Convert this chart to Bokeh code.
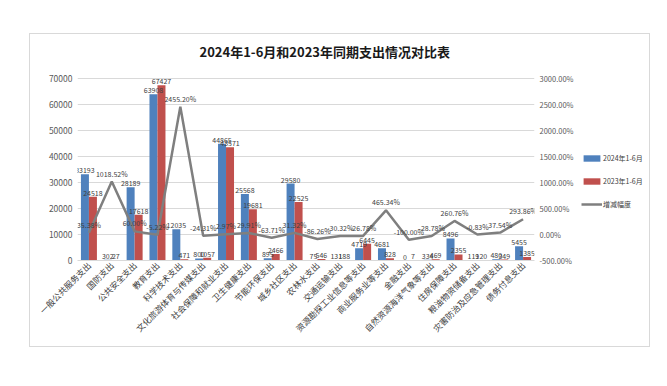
import math
from bokeh.plotting import figure
from bokeh.models import (FactorRange, Range1d, LinearAxis, FixedTicker, PrintfTickFormatter,
                          NumeralTickFormatter, ColumnDataSource, Legend, LegendItem, Spacer,
                          Row, Column)
from bokeh.transform import dodge
from bokeh.core.properties import value
from bokeh.embed import file_html
from bokeh.resources import INLINE

categories = ["一般公共服务支出", "国防支出", "公共安全支出", "教育支出", "科学技术支出",
              "文化旅游体育与传媒支出", "社会保障和就业支出", "卫生健康支出", "节能环保支出",
              "城乡社区支出", "农林水支出", "交通运输支出", "资源勘探工业信息等支出",
              "商业服务业等支出", "金融支出", "自然资源海洋气象等支出", "住房保障支出",
              "粮油物资储备支出", "灾害防治及应急管理支出", "债务付息支出"]
spend_2024 = [33193, 302, 28189, 63908, 12035, 800, 44865, 25568, 895, 29580,
              75, 131, 4719, 4681, 0, 334, 8496, 119, 480, 5455]
spend_2023 = [24518, 27, 17618, 67427, 471, 1057, 43571, 19681, 2466, 22525,
              546, 188, 6445, 828, 7, 469, 2355, 120, 349, 1385]
change_pct = [35.38, 1018.52, 60.00, -5.22, 2455.20, -24.31, 2.97, 29.91, -63.71, 31.32,
              -86.26, -30.32, -26.78, 465.34, -100.00, -28.78, 260.76, -0.83, 37.54, 293.86]
left_ticks = [0, 10000, 20000, 30000, 40000, 50000, 60000, 70000]
right_ticks = [-500, 0, 500, 1000, 1500, 2000, 2500, 3000]
series_names = ["2024年1-6月", "2023年1-6月", "增减幅度"]
title_text = "2024年1-6月和2023年同期支出情况对比表"

FONT = "Noto Sans CJK SC"
BLUE = "#4F81BD"
RED = "#C0504D"
GRAY = "#7F7F7F"
TXT = "#404040"

src = ColumnDataSource(dict(
    cat=categories,
    a=spend_2024,
    b=spend_2023,
    pct=change_pct,
    a_lbl=[str(v) for v in spend_2024],
    b_lbl=[str(v) for v in spend_2023],
    pct_lbl=["%.2f%%" % v for v in change_pct],
))

p = figure(width=548, height=312, x_range=FactorRange(*categories),
           y_range=Range1d(0, 75000), output_backend="svg", toolbar_location=None,
           min_border_left=47, min_border_right=44, min_border_top=30, min_border_bottom=86)
p.extra_y_ranges = {"pct": Range1d(-500, 3250)}

p.title.text = title_text
p.title.text_font = FONT
p.title.text_font_size = "13px"
p.title.text_font_style = "bold"
p.title.text_color = "#1a1a1a"
p.title.align = "left"
p.title.offset = 122
p.title.standoff = 10

p.outline_line_color = None
p.background_fill_color = "white"
p.border_fill_color = "white"

# axes
p.yaxis.ticker = FixedTicker(ticks=left_ticks)
p.yaxis.formatter = NumeralTickFormatter(format="0")
p.yaxis.axis_line_color = None
p.yaxis.major_tick_line_color = None
p.yaxis.minor_tick_line_color = None
p.yaxis.major_tick_out = 0
p.yaxis.major_tick_in = 0
p.yaxis.minor_tick_out = 0
p.yaxis.major_label_text_font = FONT
p.yaxis.major_label_text_font_size = "8.5px"
p.yaxis.major_label_text_color = "#595959"
p.yaxis.major_label_standoff = 5

raxis = LinearAxis(y_range_name="pct", ticker=FixedTicker(ticks=right_ticks),
                   formatter=PrintfTickFormatter(format="%.2f%%"))
raxis.axis_line_color = None
raxis.major_tick_line_color = None
raxis.minor_tick_line_color = None
raxis.major_tick_out = 0
raxis.major_tick_in = 0
raxis.minor_tick_out = 0
raxis.major_label_text_font = FONT
raxis.major_label_text_font_size = "7.5px"
raxis.major_label_text_color = "#595959"
raxis.major_label_standoff = 5
p.add_layout(raxis, "right")

p.xaxis.major_label_orientation = math.pi / 4
p.xaxis.axis_line_color = "#D9D9D9"
p.xaxis.major_tick_line_color = None
p.xaxis.minor_tick_line_color = None
p.xaxis.major_tick_out = 0
p.xaxis.major_tick_in = 0
p.xaxis.major_label_text_font = FONT
p.xaxis.major_label_text_font_size = "8.5px"
p.xaxis.major_label_text_color = TXT
p.xaxis.major_label_standoff = 3

p.xgrid.grid_line_color = None
p.ygrid.grid_line_color = "#D9D9D9"
p.ygrid.ticker = FixedTicker(ticks=left_ticks)

# bars
p.vbar(x=dodge("cat", -0.175, range=p.x_range), top="a", width=0.35, source=src,
       fill_color=BLUE, line_color=None)
p.vbar(x=dodge("cat", 0.175, range=p.x_range), top="b", width=0.35, source=src,
       fill_color=RED, line_color=None)
p.text(x=dodge("cat", -0.175, range=p.x_range), y="a", text="a_lbl", source=src,
       text_align="center", text_baseline="bottom", y_offset=-1,
       text_font=value(FONT), text_font_size="7px", text_color=TXT)
p.text(x=dodge("cat", 0.175, range=p.x_range), y="b", text="b_lbl", source=src,
       text_align="center", text_baseline="bottom", y_offset=-1,
       text_font=value(FONT), text_font_size="7px", text_color=TXT)

# line
p.line(x="cat", y="pct", source=src, y_range_name="pct", line_color=GRAY, line_width=2.5)
p.text(x="cat", y="pct", text="pct_lbl", source=src, y_range_name="pct",
       text_align="center", text_baseline="bottom", y_offset=-3,
       text_font=value(FONT), text_font_size="7px", text_color=TXT)

# legend panel: small figure whose (hidden) renderers provide the legend keys
lf = figure(width=71, height=312, x_range=FactorRange(*categories), y_range=Range1d(0, 75000),
            output_backend="svg", toolbar_location=None,
            x_axis_location=None, y_axis_location=None, min_border=0)
lf.outline_line_color = None
lf.grid.visible = False
lf.background_fill_color = "white"
lf.border_fill_color = "white"
k_a = lf.vbar(x="cat", top="a", width=0.35, source=src, fill_color=BLUE, line_color=None,
              visible=False)
k_b = lf.vbar(x="cat", top="b", width=0.35, source=src, fill_color=RED, line_color=None,
              visible=False)
k_l = lf.line(x="cat", y="pct", source=src, line_color=GRAY, line_width=2.5, visible=False)

legend = Legend(items=[LegendItem(label=series_names[0], renderers=[k_a]),
                       LegendItem(label=series_names[1], renderers=[k_b]),
                       LegendItem(label=series_names[2], renderers=[k_l])],
                location=(3, 51), orientation="vertical")
legend.background_fill_alpha = 0
legend.border_line_color = None
legend.padding = 0
legend.margin = 0
legend.glyph_width = 21
legend.glyph_height = 8
legend.label_height = 8
legend.spacing = 13
legend.label_standoff = 1
legend.label_text_font = FONT
legend.label_text_font_size = "7px"
legend.label_text_color = TXT
lf.add_layout(legend)

chart = Row(children=[p, lf], spacing=0, styles={"outline": "1px solid #D9D9D9"})
layout = Column(children=[Spacer(width=10, height=34),
                          Row(children=[Spacer(width=30, height=10), chart], spacing=0)],
                spacing=0)

open("out.html", "w").write(file_html(layout, INLINE))
